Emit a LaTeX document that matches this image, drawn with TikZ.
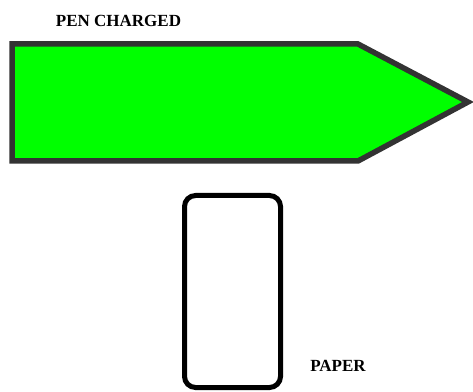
\documentclass[tikz,border=0pt]{standalone}
\usepackage{fontspec}
\setmainfont{Liberation Serif}
\definecolor{pengreen}{HTML}{00FF00}
\definecolor{pengray}{HTML}{333333}
\begin{document}
\begin{tikzpicture}[x=1pt,y=1pt,
  lbl/.style={font=\fontsize{17}{20}\selectfont\bfseries, inner sep=0pt, anchor=base}]
\useasboundingbox (0,0) rectangle (473,391);
% pen
\draw[pengray, line width=5.5pt, fill=pengreen, line join=miter]
  (12,347) -- (358,347) -- (468,289) -- (358,230) -- (12,230) -- cycle;
% paper
\draw[black, line width=5pt, rounded corners=11pt]
  (184.5,3.5) rectangle (280.5,195.5);
\node[lbl] (pen) at (118.5,364) {PEN CHARGED};
\node[lbl] (paper) at (338,19.5) {PAPER};
\end{tikzpicture}
\end{document}
